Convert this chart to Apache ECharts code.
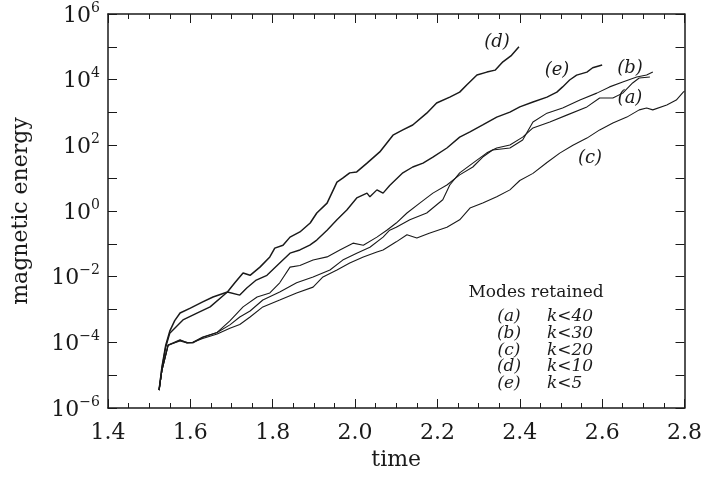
<!DOCTYPE html>
<html>
<head>
<meta charset="utf-8">
<script src="https://cdn.jsdelivr.net/npm/echarts@6/dist/echarts.min.js"></script>
<style>
  html, body { margin: 0; padding: 0; background: #fff; }
  #main { width: 705px; height: 481px; }
</style>
</head>
<body>
<div id="main"></div>
<script>
// [time, magnetic energy]
const curveA = [
  [1.524, 3.5e-6], [1.531, 1.4e-5], [1.546, 8.0e-5], [1.575, 1.15e-4], [1.592, 1.0e-4],
  [1.606, 9.5e-5], [1.63, 1.4e-4], [1.665, 2.0e-4], [1.696, 3.4e-4], [1.72, 5.9e-4],
  [1.745, 9.0e-4], [1.776, 1.95e-3], [1.817, 3.4e-3], [1.858, 6.5e-3], [1.898, 9.8e-3],
  [1.939, 1.6e-2], [1.97, 3.2e-2], [2.004, 5.2e-2], [2.036, 7.9e-2], [2.068, 0.16],
  [2.084, 0.26], [2.10, 0.32], [2.133, 0.54], [2.174, 0.87], [2.213, 2.2],
  [2.23, 6.2], [2.254, 14.5], [2.286, 28.8], [2.32, 59], [2.344, 83],
  [2.376, 102], [2.407, 178], [2.432, 339], [2.473, 513], [2.514, 832],
  [2.563, 1479], [2.594, 2754], [2.626, 2754], [2.65, 3890], [2.674, 7943],
  [2.69, 1.12e4], [2.716, 1.2e4]
];
const curveB = [
  [1.524, 3.5e-6], [1.531, 1.4e-5], [1.546, 8.3e-5], [1.575, 1.2e-4], [1.592, 9.5e-5],
  [1.606, 1.0e-4], [1.63, 1.45e-4], [1.665, 2.0e-4], [1.696, 4.5e-4], [1.728, 1.2e-3],
  [1.762, 2.4e-3], [1.793, 3.2e-3], [1.817, 6.5e-3], [1.842, 1.95e-2], [1.866, 2.2e-2],
  [1.898, 3.2e-2], [1.932, 4.0e-2], [1.963, 6.5e-2], [1.995, 0.105], [2.02, 0.091],
  [2.053, 0.16], [2.077, 0.26], [2.10, 0.43], [2.126, 0.87], [2.157, 1.74],
  [2.189, 3.5], [2.223, 6.2], [2.254, 12.6], [2.286, 21.9], [2.31, 44],
  [2.334, 72], [2.376, 83], [2.407, 145], [2.432, 513], [2.466, 955],
  [2.504, 1380], [2.546, 2399], [2.587, 3890], [2.618, 6026], [2.65, 8511],
  [2.684, 1.2e4], [2.708, 1.38e4], [2.723, 1.7e4]
];
const curveC = [
  [1.524, 3.5e-6], [1.531, 1.4e-5], [1.546, 8.3e-5], [1.575, 1.1e-4], [1.592, 9.5e-5],
  [1.606, 1.0e-4], [1.63, 1.3e-4], [1.665, 1.8e-4], [1.696, 2.7e-4], [1.72, 3.5e-4],
  [1.745, 5.9e-4], [1.776, 1.2e-3], [1.817, 1.95e-3], [1.858, 3.2e-3], [1.898, 4.8e-3],
  [1.922, 9.8e-3], [1.956, 1.6e-2], [1.987, 2.6e-2], [2.02, 4.0e-2], [2.053, 5.6e-2],
  [2.068, 6.5e-2], [2.10, 0.115], [2.126, 0.19], [2.15, 0.15], [2.18, 0.21],
  [2.223, 0.32], [2.254, 0.54], [2.279, 1.23], [2.31, 1.74], [2.344, 2.7],
  [2.376, 4.4], [2.40, 8.5], [2.432, 14], [2.466, 30], [2.497, 58],
  [2.529, 100], [2.563, 166], [2.594, 295], [2.626, 479], [2.66, 724],
  [2.69, 1202], [2.708, 1380], [2.723, 1202], [2.757, 1698], [2.78, 2399],
  [2.797, 4169], [2.80, 4500]
];
const curveD = [
  [1.524, 3.5e-6], [1.531, 1.8e-5], [1.54, 8.0e-5], [1.55, 2.2e-4], [1.562, 4.6e-4],
  [1.575, 7.8e-4], [1.60, 1.1e-3], [1.63, 1.7e-3], [1.655, 2.4e-3], [1.69, 3.4e-3],
  [1.708, 6.5e-3], [1.728, 1.3e-2], [1.745, 1.1e-2], [1.769, 1.95e-2], [1.793, 4.0e-2],
  [1.805, 7.4e-2], [1.825, 9.1e-2], [1.842, 0.16], [1.866, 0.23], [1.891, 0.43],
  [1.907, 0.87], [1.932, 1.74], [1.956, 7.6], [1.97, 10], [1.987, 14.5],
  [2.004, 15.5], [2.029, 28.8], [2.06, 63], [2.092, 204], [2.116, 295],
  [2.14, 417], [2.174, 955], [2.198, 1950], [2.23, 2951], [2.254, 4169],
  [2.271, 6918], [2.296, 1.38e4], [2.32, 1.7e4], [2.34, 1.95e4], [2.359, 3.5e4],
  [2.38, 5.5e4], [2.398, 1.0e5]
];
const curveE = [
  [1.524, 3.5e-6], [1.531, 1.6e-5], [1.54, 7.0e-5], [1.55, 1.9e-4], [1.582, 4.8e-4],
  [1.616, 7.8e-4], [1.648, 1.2e-3], [1.69, 3.4e-3], [1.72, 2.75e-3], [1.737, 4.5e-3],
  [1.76, 7.9e-3], [1.786, 1.1e-2], [1.817, 2.6e-2], [1.842, 5.2e-2], [1.866, 6.5e-2],
  [1.89, 9.1e-2], [1.907, 0.13], [1.932, 0.26], [1.956, 0.54], [1.98, 1.07],
  [2.004, 2.5], [2.029, 3.5], [2.036, 2.7], [2.053, 4.4], [2.068, 3.5],
  [2.084, 6.0], [2.116, 14.5], [2.14, 21.9], [2.165, 28.8], [2.189, 43.7],
  [2.223, 83], [2.254, 178], [2.279, 257], [2.31, 417], [2.344, 724],
  [2.376, 1023], [2.40, 1479], [2.432, 2089], [2.466, 2951], [2.49, 4169],
  [2.504, 6026], [2.521, 9772], [2.538, 1.38e4], [2.563, 1.7e4], [2.577, 2.3e4],
  [2.60, 2.8e4]
];

const xTicks = [1.4, 1.6, 1.8, 2.0, 2.2, 2.4, 2.6, 2.8];
const modeLabels = ["(a)", "(b)", "(c)", "(d)", "(e)"];
const modeLimits = ["k<40", "k<30", "k<20", "k<10", "k<5"];

const FONT = "DejaVu Serif";
const INK = "#1a1a1a";

function lineSeries(data, width) {
  return {
    type: "line",
    data: data,
    showSymbol: false,
    smooth: false,
    lineStyle: { color: INK, width: width },
    silent: true
  };
}

function supLabel(v) {
  const e = Math.round(Math.log10(v));
  if (e % 2 !== 0) return "";
  return "{b|10}{s|" + String(e).replace("-", "\u2212") + "}";
}

const texts = [];
// curve labels
[["(d)", 497, 42], ["(e)", 557, 70], ["(b)", 630, 68], ["(a)", 630, 98], ["(c)", 590, 158]].forEach((t) => {
  texts.push({
    type: "text", x: t[1], y: t[2],
    style: { text: t[0], font: "italic 18px '" + FONT + "'", fill: INK, align: "center", verticalAlign: "middle" }
  });
});
// legend block
texts.push({
  type: "text", x: 536, y: 293,
  style: { text: "Modes retained", font: "17px '" + FONT + "'", fill: INK, align: "center", verticalAlign: "middle" }
});
modeLabels.forEach((m, i) => {
  texts.push({
    type: "text", x: 509, y: 317 + i * 16.6,
    style: { text: m, font: "italic 17px '" + FONT + "'", fill: INK, align: "center", verticalAlign: "middle" }
  });
  texts.push({
    type: "text", x: 547, y: 317 + i * 16.6,
    style: { text: modeLimits[i], font: "italic 17px '" + FONT + "'", fill: INK, align: "left", verticalAlign: "middle" }
  });
});

const option = {
  backgroundColor: "#fff",
  animation: false,
  grid: { left: 108, right: 20, top: 14, bottom: 73 },
  xAxis: [
    {
      type: "value", min: 1.4, max: 2.8, interval: 0.2,
      name: "time", nameLocation: "middle", nameGap: 36,
      nameTextStyle: { fontFamily: FONT, fontSize: 22, color: INK },
      axisLine: { lineStyle: { color: INK, width: 1.5 } },
      axisTick: { inside: true, length: 9, lineStyle: { color: INK } },
      minorTick: { show: true, splitNumber: 4, length: 5, lineStyle: { color: INK } },
      axisLabel: {
        fontFamily: FONT, fontSize: 22, color: INK, margin: 14,
        formatter: (v) => xTicks.indexOf(Math.round(v * 10) / 10) >= 0 ? v.toFixed(1) : ""
      },
      splitLine: { show: false }
    },
    {
      type: "value", min: 1.4, max: 2.8, interval: 0.2, position: "top",
      axisLine: { lineStyle: { color: INK, width: 1.5 } },
      axisTick: { inside: true, length: 9, lineStyle: { color: INK } },
      minorTick: { show: true, splitNumber: 4, length: 5, lineStyle: { color: INK } },
      axisLabel: { show: false },
      splitLine: { show: false }
    }
  ],
  yAxis: [
    {
      type: "log", logBase: 10, min: 1e-6, max: 1e6, interval: 1,
      name: "magnetic energy", nameLocation: "middle", nameGap: 76,
      nameTextStyle: { fontFamily: FONT, fontSize: 22, color: INK },
      axisLine: { show: true, lineStyle: { color: INK, width: 1.5 } },
      axisTick: { show: true, inside: true, length: 9, lineStyle: { color: INK } },
      axisLabel: {
        color: INK, margin: 8,
        formatter: supLabel,
        rich: {
          b: { fontFamily: FONT, fontSize: 22, color: INK, verticalAlign: "bottom", lineHeight: 26 },
          s: { fontFamily: FONT, fontSize: 14, color: INK, verticalAlign: "top", lineHeight: 26, padding: [0, 0, 10, 0] }
        }
      },
      splitLine: { show: false }
    },
    {
      type: "log", logBase: 10, min: 1e-6, max: 1e6, interval: 1, position: "right",
      axisLine: { show: true, lineStyle: { color: INK, width: 1.5 } },
      axisTick: { show: true, inside: true, length: 9, lineStyle: { color: INK } },
      axisLabel: { show: false },
      splitLine: { show: false }
    }
  ],
  series: [
    lineSeries(curveA, 1.1),
    lineSeries(curveB, 1.1),
    lineSeries(curveC, 1.1),
    lineSeries(curveD, 1.5),
    lineSeries(curveE, 1.4)
  ],
  graphic: texts
};

var myChart = echarts.init(document.getElementById("main"));
myChart.setOption(option);
</script>
</body>
</html>
